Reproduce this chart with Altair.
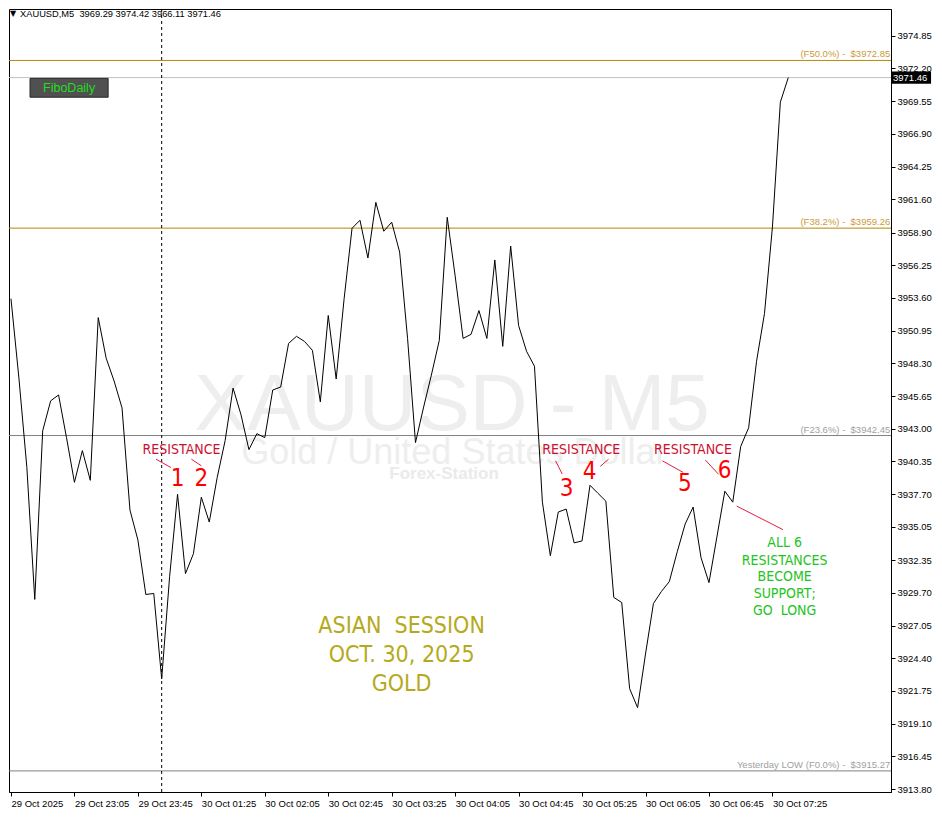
import json
import altair as alt
import pandas as pd

# ---------------- data ----------------
close = [3953.54, 3947.11, 3939.87, 3929.17, 3942.84, 3945.26, 3945.74, 3942.28, 3938.66, 3941.23,
         3938.82, 3952.01, 3948.72, 3946.87, 3944.69, 3936.41, 3933.99, 3929.57, 3929.65, 3922.73,
         3931.02, 3937.69, 3931.26, 3932.87, 3937.45, 3935.44, 3939.06, 3942.04, 3946.30, 3944.13,
         3941.31, 3942.60, 3942.28, 3946.14, 3946.38, 3949.92, 3950.49, 3950.08, 3949.36, 3945.18,
         3952.18, 3947.03, 3953.54, 3959.25, 3959.90, 3956.84, 3961.35, 3959.01, 3959.74, 3957.32,
         3950.32, 3941.88, 3944.69, 3947.35, 3950.16, 3960.14, 3955.39, 3950.32, 3950.65, 3952.58,
         3950.32, 3956.68, 3949.68, 3957.81, 3951.37, 3949.28, 3948.07, 3937.05, 3932.71, 3936.25,
         3936.49, 3933.75, 3933.91, 3938.42, 3937.77, 3937.13, 3929.33, 3928.92, 3921.93, 3920.40,
         3924.74, 3928.84, 3929.81, 3930.61, 3933.03, 3935.28, 3936.65, 3932.55, 3930.53, 3934.23,
         3937.94, 3937.05, 3941.56, 3943.08, 3948.47, 3952.34, 3959.34, 3969.47, 3971.46]
bar_index = list(range(len(close)))

x_tick_index = [0, 8, 16, 24, 32, 40, 48, 56, 64, 72, 80, 88, 96]
x_tick_labels = ["29 Oct 2025", "29 Oct 23:05", "29 Oct 23:45", "30 Oct 01:25", "30 Oct 02:05",
                 "30 Oct 02:45", "30 Oct 03:25", "30 Oct 04:05", "30 Oct 04:45", "30 Oct 05:25",
                 "30 Oct 06:05", "30 Oct 06:45", "30 Oct 07:25"]
y_ticks = [3974.85, 3972.20, 3969.55, 3966.90, 3964.25, 3961.60, 3958.90, 3956.25, 3953.60,
           3950.95, 3948.30, 3945.65, 3943.00, 3940.35, 3937.70, 3935.05, 3932.35, 3929.70,
           3927.05, 3924.40, 3921.75, 3919.10, 3916.45, 3913.80]

level_values = [3972.85, 3959.26, 3942.45, 3915.27]
level_labels = ["(F50.0%) -\u00a0 $3972.85", "(F38.2%) -\u00a0 $3959.26", "(F23.6%) -\u00a0 $3942.45",
                "Yesterday LOW (F0.0%) -\u00a0 $3915.27"]
level_line_colors = ["#B8860B", "#B8860B", "#808080", "#808080"]
level_text_colors = ["#CC9A3A", "#CC9A3A", "#A0A0A0", "#A0A0A0"]

last_price = 3971.46
last_price_text = "3971.46"
header_text = "XAUUSD,M5\u00a0 3969.29 3974.42 3966.11 3971.46"
separator_bar = 19

wm_texts = ["XAUUSD - M5", "Gold / United States Dollar"]
wm_x = [55.6, 55.9]
wm_y = [3942.92, 3940.11]
wm_sizes = [80, 36]
wm2_text = ["Forex-Station"]
wm2_x = [54.6]
wm2_y = [3938.92]

res_x = [21.5, 71.9, 85.98]
res_y = [3941.26, 3941.26, 3941.26]
num_text = ["1", "2", "3", "4", "5", "6"]
num_x = [21.0, 24.0, 70.04, 72.96, 84.96, 89.96]
num_y = [3938.92, 3938.92, 3938.12, 3939.46, 3938.52, 3939.54]
seg_x1 = [18.29, 22.75, 68.66, 74.29, 82.13, 87.54, 91.5]
seg_x2 = [20.16, 24.0, 69.5, 75.34, 84.75, 89.21, 97.34]
seg_y1 = [3940.53, 3940.53, 3940.40, 3939.95, 3940.40, 3940.47, 3936.73]
seg_y2 = [3939.86, 3940.00, 3939.33, 3940.53, 3939.46, 3939.31, 3934.82]

green_lines = ["ALL 6", "RESISTANCES", "BECOME", "SUPPORT;", "GO\u00a0 LONG"]
green_x = [97.54] * 5
green_y = [3933.75, 3932.30, 3930.96, 3929.57, 3928.20]

olive_lines = ["ASIAN\u00a0 SESSION", "OCT. 30, 2025", "GOLD"]
olive_x = [49.25] * 3
olive_y = [3926.99, 3924.66, 3922.33]

button_text = "FiboDaily"
button_x = [2.4, 12.25]
button_y = [3971.40, 3969.87]

header_arrow_x = -0.12
header_text_x = 1.14
header_y = 3976.61

# ---------------- styling ----------------
SMALL = "Liberation Sans"
NARROW = "Liberation Sans Narrow, Arial Narrow, DejaVu Sans Condensed, sans-serif"

X_DOMAIN = [-0.25, 110.95]
Y_DOMAIN = [3913.56, 3977.02]
xscale = alt.Scale(domain=X_DOMAIN, nice=False, zero=False)
yscale = alt.Scale(domain=Y_DOMAIN, nice=False, zero=False)

label_expr = f"{json.dumps(x_tick_labels)}[indexof({json.dumps(x_tick_index)}, datum.value)]"
xaxis = alt.Axis(values=x_tick_index, labelExpr=label_expr, labelAlign="left", tickSize=4,
                 domainColor="#000000", tickColor="#000000", labelColor="#000000",
                 labelFont=SMALL, labelFontSize=9.5, grid=False, title=None, labelPadding=2,
                 labelFlush=False, labelOverlap=False)
yaxis = alt.Axis(orient="right", values=y_ticks, format=".2f", tickSize=4,
                 domainColor="#000000", tickColor="#000000", labelColor="#000000",
                 labelFont=SMALL, labelFontSize=9.5, grid=False, title=None, labelPadding=2,
                 labelOverlap=False, labelBaseline="middle")


def X(f):
    return alt.X(f, type="quantitative", scale=xscale, axis=xaxis)


def Y(f):
    return alt.Y(f, type="quantitative", scale=yscale, axis=yaxis)


# ---------------- layers ----------------
wm_df = pd.DataFrame({"i": wm_x, "p": wm_y, "t": wm_texts, "s": wm_sizes})
wm = alt.Chart(wm_df).mark_text(font=SMALL, color="#EEEEEE", align="center",
                                baseline="alphabetic").encode(
    x=X("i"), y=Y("p"), text="t:N", size=alt.Size("s:Q", scale=None, legend=None))
wm2 = alt.Chart(pd.DataFrame({"i": wm2_x, "p": wm2_y, "t": wm2_text})).mark_text(
    font=SMALL, color="#EAEAEA", align="center", baseline="alphabetic", fontSize=17,
    fontWeight="bold").encode(x=X("i"), y=Y("p"), text="t:N")

lv_df = pd.DataFrame({"p": level_values, "t": level_labels, "lc": level_line_colors,
                      "tc": level_text_colors, "i": [X_DOMAIN[1] - 0.1] * 4})
level_rules = alt.Chart(lv_df).mark_rule(strokeWidth=1).encode(
    y=Y("p"), color=alt.Color("lc:N", scale=None, legend=None))
level_text = alt.Chart(lv_df).mark_text(font=SMALL, fontSize=9.5, align="right",
                                        baseline="bottom", dy=-1).encode(
    x=X("i"), y=Y("p"), text="t:N", color=alt.Color("tc:N", scale=None, legend=None))

last_df = pd.DataFrame({"p": [last_price], "p1": [last_price + 0.49], "p2": [last_price - 0.49],
                        "i1": [X_DOMAIN[1]], "i2": [116.0], "t": [last_price_text]})
last_rule = alt.Chart(last_df).mark_rule(color="#C0C0C0", strokeWidth=1).encode(y=Y("p"))

sep = alt.Chart(pd.DataFrame({"i": [separator_bar]})).mark_rule(
    color="#000000", strokeDash=[3, 3], strokeWidth=1).encode(x=X("i"))

price_df = pd.DataFrame({"i": bar_index, "p": close})
price = alt.Chart(price_df).mark_line(color="#000000", strokeWidth=1).encode(x=X("i"), y=Y("p"))

res_df = pd.DataFrame({"i": res_x, "p": res_y, "t": ["RESISTANCE"] * 3})
res = alt.Chart(res_df).mark_text(font=NARROW, fontSize=14, color="#CC1030",
                                  align="center", baseline="middle").encode(
    x=X("i"), y=Y("p"), text="t:N")
num_df = pd.DataFrame({"i": num_x, "p": num_y, "t": num_text})
nums = alt.Chart(num_df).mark_text(font=NARROW, fontSize=24, color="#FF0000",
                                   align="center", baseline="middle").encode(
    x=X("i"), y=Y("p"), text="t:N")
seg_df = pd.DataFrame({"i": seg_x1, "i2": seg_x2, "p": seg_y1, "p2": seg_y2})
segs = alt.Chart(seg_df).mark_rule(color="#DD2040", strokeWidth=1).encode(
    x=X("i"), x2="i2:Q", y=Y("p"), y2="p2:Q")

green_df = pd.DataFrame({"i": green_x, "p": green_y, "t": green_lines})
green = alt.Chart(green_df).mark_text(font=NARROW, fontSize=14, color="#22C422",
                                      align="center", baseline="middle").encode(
    x=X("i"), y=Y("p"), text="t:N")
olive_df = pd.DataFrame({"i": olive_x, "p": olive_y, "t": olive_lines})
olive = alt.Chart(olive_df).mark_text(font=NARROW, fontSize=23, color="#B5AA1C",
                                      align="center", baseline="middle").encode(
    x=X("i"), y=Y("p"), text="t:N")

btn_df = pd.DataFrame({"i": [button_x[0]], "i2": [button_x[1]], "p": [button_y[0]],
                       "p2": [button_y[1]], "t": [button_text],
                       "ic": [(button_x[0] + button_x[1]) / 2],
                       "pc": [(button_y[0] + button_y[1]) / 2]})
btn = alt.Chart(btn_df).mark_rect(fill="#505050", stroke="#2A2A2A", strokeWidth=1).encode(
    x=X("i"), x2="i2:Q", y=Y("p"), y2="p2:Q")
btn_text = alt.Chart(btn_df).mark_text(font=SMALL, fontSize=12.5, color="#22DD22",
                                       align="center", baseline="middle").encode(
    x=X("ic"), y=Y("pc"), text="t:N")

arrow = alt.Chart(pd.DataFrame({"i": [header_arrow_x], "p": [header_y], "t": ["▼"]})).mark_text(
    font="DejaVu Sans", fontSize=8, color="#000000", align="left", baseline="middle").encode(
    x=X("i"), y=Y("p"), text="t:N")
hdr = alt.Chart(pd.DataFrame({"i": [header_text_x], "p": [header_y], "t": [header_text]})).mark_text(
    font=SMALL, fontSize=9.3, color="#000000", align="left", baseline="middle").encode(
    x=X("i"), y=Y("p"), text="t:N")

last_box = alt.Chart(last_df).mark_rect(fill="#000000").encode(
    x=X("i1"), x2="i2:Q", y=Y("p1"), y2="p2:Q")
last_txt = alt.Chart(last_df).mark_text(font=SMALL, fontSize=9.5, color="#FFFFFF",
                                        align="left", baseline="middle", dx=2).encode(
    x=X("i1"), y=Y("p"), text="t:N")

chart = alt.layer(
    wm, wm2, level_rules, last_rule, sep, price, level_text, res, nums, segs, green, olive,
    btn, btn_text, arrow, hdr, last_box, last_txt
).properties(width=882, height=783, padding=0, background="#FFFFFF").configure_view(
    stroke="#000000", strokeWidth=1)

chart.save("out.html", embed_options={"renderer": "svg", "actions": False})
